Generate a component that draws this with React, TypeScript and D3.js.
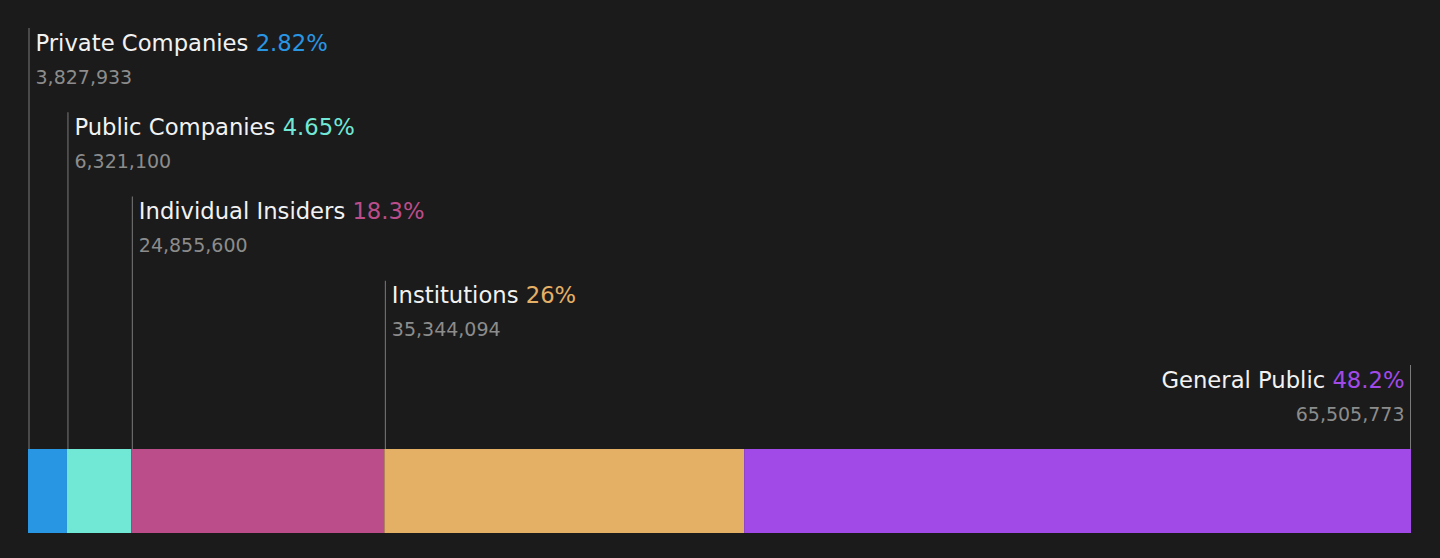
import { scaleLinear, sum, cumsum, format } from "d3";

const categories = [
  "Private Companies",
  "Public Companies",
  "Individual Insiders",
  "Institutions",
  "General Public",
];
const shares = [3827933, 6321100, 24855600, 35344094, 65505773];
const percentLabels = ["2.82%", "4.65%", "18.3%", "26%", "48.2%"];
const colors = ["#2896e3", "#71e8d6", "#bb4d8a", "#e4b066", "#a24ae8"];

export default function App() {
  const width = 1440;
  const height = 558;
  const margin = { left: 28, right: 29 };
  const barTop = 449;
  const barHeight = 84;
  const rowStep = 84.25;
  const firstTop = 28;

  const total = sum(shares);
  const ends = Array.from(cumsum(shares));
  const x = scaleLinear()
    .domain([0, total])
    .range([margin.left, width - margin.right]);
  const fmt = format(",");

  const segments = shares.map((value, i) => ({
    name: categories[i],
    value,
    pct: percentLabels[i],
    color: colors[i],
    x0: x(ends[i] - value),
    x1: x(ends[i]),
    top: firstTop + i * rowStep,
  }));

  const last = segments.length - 1;

  return (
    <>
      <style>{`body{margin:0;background:#1b1b1b}`}</style>
      <svg
        width={width}
        height={height}
        style={{ display: "block", background: "#1b1b1b" }}
        fontFamily="DejaVu Sans, sans-serif"
      >
        {segments.map((seg) => (
          <rect
            key={`bar-${seg.name}`}
            x={seg.x0}
            y={barTop}
            width={seg.x1 - seg.x0}
            height={barHeight}
            fill={seg.color}
          />
        ))}
        {segments.map((seg, i) => {
          const isLast = i === last;
          const lx = isLast ? seg.x1 - 0.5 : seg.x0 + 1;
          const tx = isLast ? lx - 6 : lx + 6.5;
          const anchor = isLast ? "end" : "start";
          return (
            <g key={`label-${seg.name}`}>
              <line
                x1={lx}
                x2={lx}
                y1={seg.top}
                y2={barTop}
                stroke="#7a7a7a"
                strokeWidth={1}
              />
              <text
                x={tx}
                y={seg.top + 22.5}
                fontSize={22.7}
                fill="#f2f2f2"
                textAnchor={anchor}
              >
                {seg.name}{" "}
                <tspan fill={seg.color}>{seg.pct}</tspan>
              </text>
              <text
                x={tx}
                y={seg.top + 55.5}
                fontSize={19}
                fill="#8c8c8c"
                textAnchor={anchor}
              >
                {fmt(seg.value)}
              </text>
            </g>
          );
        })}
      </svg>
    </>
  );
}
